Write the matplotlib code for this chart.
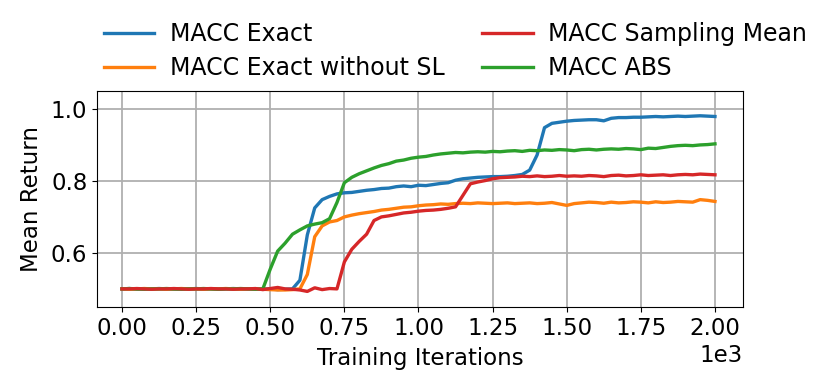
import numpy as np
import matplotlib
matplotlib.use("Agg")
import matplotlib.pyplot as plt

# training iterations, one reading every 25 steps
iters = np.arange(0, 2001, 25)

exact = [0.50, 0.501, 0.499, 0.50, 0.50, 0.501, 0.50, 0.499, 0.50, 0.50, 0.501, 0.50,
         0.50, 0.499, 0.50, 0.501, 0.50, 0.50, 0.499, 0.50, 0.50, 0.498, 0.499, 0.50,
         0.524, 0.65, 0.725, 0.748, 0.757, 0.764, 0.767, 0.768, 0.771, 0.774, 0.776, 0.779,
         0.78, 0.784, 0.786, 0.784, 0.788, 0.787, 0.79, 0.793, 0.795, 0.802, 0.806, 0.808,
         0.81, 0.811, 0.812, 0.812, 0.813, 0.815, 0.818, 0.83, 0.872, 0.948, 0.96, 0.963,
         0.966, 0.968, 0.969, 0.97, 0.97, 0.967, 0.974, 0.976, 0.976, 0.977, 0.977, 0.978,
         0.979, 0.978, 0.979, 0.98, 0.979, 0.98, 0.981, 0.98, 0.979]

exact_no_sl = [0.50, 0.499, 0.50, 0.501, 0.50, 0.50, 0.499, 0.50, 0.501, 0.50, 0.50, 0.499,
               0.50, 0.50, 0.501, 0.50, 0.499, 0.50, 0.50, 0.499, 0.498, 0.497, 0.497, 0.498,
               0.50, 0.54, 0.645, 0.675, 0.686, 0.69, 0.70, 0.705, 0.709, 0.712, 0.715, 0.719,
               0.721, 0.724, 0.727, 0.728, 0.731, 0.733, 0.734, 0.736, 0.735, 0.737, 0.738, 0.737,
               0.739, 0.738, 0.737, 0.738, 0.739, 0.737, 0.738, 0.739, 0.737, 0.738, 0.74, 0.736,
               0.732, 0.737, 0.739, 0.741, 0.74, 0.738, 0.741, 0.739, 0.74, 0.742, 0.741, 0.739,
               0.742, 0.74, 0.741, 0.743, 0.742, 0.741, 0.748, 0.746, 0.743]

abs_ = [0.50, 0.501, 0.50, 0.499, 0.50, 0.50, 0.501, 0.50, 0.499, 0.50, 0.50, 0.501,
        0.50, 0.499, 0.50, 0.50, 0.501, 0.50, 0.499, 0.50,
        0.555, 0.605, 0.627, 0.652, 0.664, 0.675, 0.68, 0.684, 0.695, 0.74, 0.795, 0.81,
        0.82, 0.828, 0.836, 0.843, 0.848, 0.855, 0.858, 0.863, 0.866, 0.868, 0.872, 0.875,
        0.877, 0.879, 0.878, 0.88, 0.881, 0.88, 0.882, 0.881, 0.883, 0.884, 0.882, 0.885,
        0.884, 0.886, 0.885, 0.887, 0.886, 0.884, 0.887, 0.888, 0.886, 0.888, 0.889, 0.888,
        0.89, 0.889, 0.887, 0.891, 0.89, 0.893, 0.896, 0.898, 0.899, 0.898, 0.9, 0.901, 0.903]

sampling_mean = [0.50, 0.50, 0.501, 0.50, 0.499, 0.50, 0.50, 0.501, 0.50, 0.499, 0.50, 0.50,
                 0.501, 0.50, 0.50, 0.499, 0.50, 0.50, 0.501, 0.498, 0.501, 0.504, 0.50, 0.499,
                 0.497, 0.493, 0.503, 0.498, 0.501, 0.50, 0.575, 0.61, 0.632, 0.652, 0.69, 0.70,
                 0.703, 0.707, 0.711, 0.713, 0.716, 0.718, 0.719, 0.721, 0.724, 0.728, 0.76, 0.792,
                 0.797, 0.801, 0.806, 0.809, 0.81, 0.811, 0.813, 0.812, 0.814, 0.812, 0.813, 0.815,
                 0.813, 0.814, 0.813, 0.815, 0.814, 0.812, 0.815, 0.816, 0.814, 0.815, 0.817, 0.815,
                 0.816, 0.817, 0.815, 0.817, 0.818, 0.817, 0.819, 0.818, 0.817]

plt.rcParams["font.size"] = 16.5

fig = plt.figure(figsize=(8.3, 3.87), dpi=100)
ax = fig.add_axes([0.117, 0.207, 0.778, 0.558])

l1, = ax.plot(iters, exact, color="C0", lw=2.4, label="MACC Exact")
l2, = ax.plot(iters, exact_no_sl, color="C1", lw=2.4, label="MACC Exact without SL")
l4, = ax.plot(iters, abs_, color="C2", lw=2.4, label="MACC ABS")
l3, = ax.plot(iters, sampling_mean, color="C3", lw=2.4, label="MACC Sampling Mean")

ax.set_xlim(-84, 2094)
ax.set_ylim(0.45, 1.05)
ax.set_yticks([0.6, 0.8, 1.0])
ax.ticklabel_format(style="sci", axis="x", scilimits=(0, 0))
ax.grid(True, color="#b0b0b0", lw=1.3)
ax.set_xlabel("Training Iterations", labelpad=5)
ax.set_ylabel("Mean Return", labelpad=6)

ax.legend(handles=[l1, l2, l3, l4], ncol=2, frameon=False, loc="lower center",
          bbox_to_anchor=(0.555, 0.951), columnspacing=1.6, handlelength=2.15,
          handletextpad=0.65, labelspacing=0.42, prop={"size": 17})

fig.savefig("out.png")
